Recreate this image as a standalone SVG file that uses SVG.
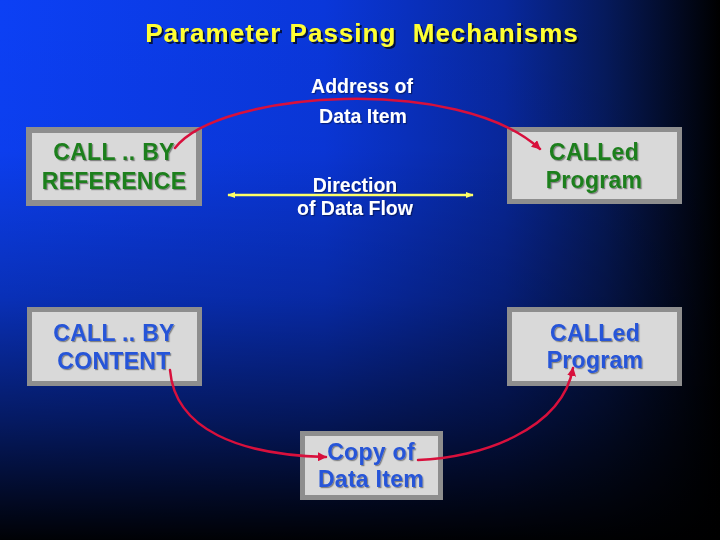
<svg xmlns="http://www.w3.org/2000/svg" width="720" height="540" viewBox="0 0 720 540">
<defs>
<linearGradient id="bgH" x1="0" y1="0" x2="720" y2="0" gradientUnits="userSpaceOnUse">
<stop offset="0" stop-color="#0c40f5"/>
<stop offset="0.45" stop-color="#0a37da"/>
<stop offset="0.7" stop-color="#08289e"/>
<stop offset="0.84" stop-color="#061a5c"/>
<stop offset="1" stop-color="#000000"/>
</linearGradient>
<linearGradient id="bgV" x1="0" y1="0" x2="0" y2="540" gradientUnits="userSpaceOnUse">
<stop offset="0" stop-color="#000" stop-opacity="0"/>
<stop offset="0.28" stop-color="#000" stop-opacity="0.03"/>
<stop offset="0.55" stop-color="#000" stop-opacity="0.25"/>
<stop offset="0.78" stop-color="#000" stop-opacity="0.6"/>
<stop offset="1" stop-color="#000" stop-opacity="0.98"/>
</linearGradient>
<filter id="sh" x="-10%" y="-20%" width="120%" height="150%">
<feDropShadow dx="1.2" dy="1.2" stdDeviation="0.4" flood-color="#000" flood-opacity="0.4"/>
</filter>
<filter id="shT" x="-10%" y="-30%" width="120%" height="160%">
<feDropShadow dx="2" dy="2" stdDeviation="0.5" flood-color="#000" flood-opacity="0.7"/>
</filter>
<marker id="redHead" viewBox="0 0 10 10" refX="9" refY="5" markerWidth="9" markerHeight="9" markerUnits="userSpaceOnUse" orient="auto">
<path d="M0,0 L10,5 L0,10 Z" fill="#d8103c"/>
</marker>
<marker id="yelHead" viewBox="0 0 10 10" refX="9" refY="5" markerWidth="8" markerHeight="8" markerUnits="userSpaceOnUse" orient="auto-start-reverse">
<path d="M0,1 L10,5 L0,9 Z" fill="#ffff66"/>
</marker>
<style>
.box-outer{fill:#8e8e8e;}
.box-inner{fill:#d9d9d9;}
.green{fill:#1f7f1f;font-family:"Liberation Sans",Arial,sans-serif;font-weight:bold;font-size:23px;letter-spacing:0.3px;text-anchor:middle;filter:url(#sh);}
.blue{fill:#2654d8;font-family:"Liberation Sans",Arial,sans-serif;font-weight:bold;font-size:23px;letter-spacing:0.3px;text-anchor:middle;filter:url(#sh);}
.white{fill:#ffffff;font-family:"Liberation Sans",Arial,sans-serif;font-weight:bold;font-size:19.5px;text-anchor:middle;filter:url(#sh);}
.title{fill:#ffff33;font-family:"Liberation Sans",Arial,sans-serif;font-weight:bold;font-size:26px;letter-spacing:1px;text-anchor:middle;filter:url(#shT);}
.red{fill:none;stroke:#d8103c;stroke-width:2.5;stroke-linecap:round;marker-end:url(#redHead);}
.yel{fill:none;stroke:#ffff66;stroke-width:2.5;marker-start:url(#yelHead);marker-end:url(#yelHead);}
</style>
</defs>

<rect x="0" y="0" width="720" height="540" fill="url(#bgH)"/>
<rect x="0" y="0" width="720" height="540" fill="url(#bgV)"/>

<text class="title" x="362" y="42" xml:space="preserve">Parameter Passing  Mechanisms</text>

<g id="callByReference">
<rect class="box-outer" x="26" y="127" width="176" height="79"/>
<rect class="box-inner" x="32" y="133" width="164" height="67"/>
<text class="green" x="114" y="160">CALL .. BY</text>
<text class="green" x="114" y="189">REFERENCE</text>
</g>

<g id="calledProgramTop">
<rect class="box-outer" x="507" y="127" width="175" height="77"/>
<rect class="box-inner" x="512" y="132" width="165" height="67"/>
<text class="green" x="594" y="160">CALLed</text>
<text class="green" x="594" y="188">Program</text>
</g>

<g id="callByContent">
<rect class="box-outer" x="27" y="307" width="175" height="79"/>
<rect class="box-inner" x="32" y="312" width="165" height="69"/>
<text class="blue" x="114" y="341">CALL .. BY</text>
<text class="blue" x="114" y="369">CONTENT</text>
</g>

<g id="calledProgramBottom">
<rect class="box-outer" x="507" y="307" width="175" height="79"/>
<rect class="box-inner" x="512" y="312" width="165" height="69"/>
<text class="blue" x="595" y="341">CALLed</text>
<text class="blue" x="595" y="368">Program</text>
</g>

<g id="copyOfDataItem">
<rect class="box-outer" x="300" y="431" width="143" height="69"/>
<rect class="box-inner" x="305" y="436" width="133" height="59"/>
<text class="blue" x="371" y="460">Copy of</text>
<text class="blue" x="371" y="487">Data Item</text>
</g>

<g id="labels">
<text class="white" x="362" y="93">Address of</text>
<text class="white" x="363" y="123">Data Item</text>
<text class="white" x="355" y="192">Direction</text>
<text class="white" x="355" y="215">of Data Flow</text>
</g>

<g id="connectors">
<path class="red" d="M175,148 C220,90 460,75 540,149"/>
<path class="yel" d="M228,195 L473,195"/>
<path class="red" d="M170,370 C175,430 240,455 326,457"/>
<path class="red" d="M418,460 C480,458 562,430 573,368"/>
</g>
</svg>
